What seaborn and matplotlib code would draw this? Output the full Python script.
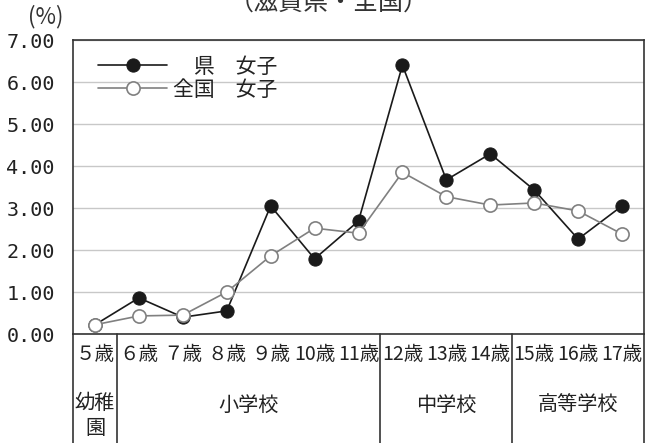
import seaborn as sns
import pandas as pd
import matplotlib.pyplot as plt
import matplotlib.transforms as mtransforms

# Data
ages = ['５歳', '６歳', '７歳', '８歳', '９歳', '10歳', '11歳',
        '12歳', '13歳', '14歳', '15歳', '16歳', '17歳']
ken_girls = [0.22, 0.86, 0.40, 0.55, 3.05, 1.79, 2.69,
             6.40, 3.67, 4.29, 3.43, 2.26, 3.05]
zenkoku_girls = [0.22, 0.43, 0.45, 1.00, 1.86, 2.52, 2.40,
                 3.85, 3.27, 3.07, 3.12, 2.93, 2.38]
schools = ['幼稚\n園', '小学校', '中学校', '高等学校']
school_spans = [(0, 0), (1, 6), (7, 9), (10, 12)]
yticks = [0, 1, 2, 3, 4, 5, 6, 7]

df = pd.DataFrame({'pos': range(len(ages)), 'age': ages,
                   'ken': ken_girls, 'zenkoku': zenkoku_girls})

sns.set_style('white')
plt.rcParams['font.family'] = ['Noto Sans CJK JP', 'DejaVu Sans']

fig = plt.figure(figsize=(6.57, 4.43), dpi=100, facecolor='white')
ax = fig.add_axes([73 / 657, 109 / 443, 571 / 657, 294 / 443])

sns.lineplot(x='pos', y='ken', data=df, ax=ax, color='#1a1a1a', linewidth=1.2,
             marker='o', markersize=9.5, markerfacecolor='#1a1a1a',
             markeredgecolor='#1a1a1a', label='　県　女子')
sns.lineplot(x='pos', y='zenkoku', data=df, ax=ax, color='#808080', linewidth=1.2,
             marker='o', markersize=9.5, markerfacecolor='white',
             markeredgecolor='#808080', markeredgewidth=1.2, label='全国　女子')

ax.set_xlim(-0.5, len(ages) - 0.5)
ax.set_ylim(0, 7)
ax.set_yticks(yticks)
ax.set_yticklabels([f'{v:.2f}' for v in yticks], fontsize=14.5,
                   family=['DejaVu Sans Mono'], color='#222222')
ax.tick_params(axis='y', length=0, pad=13)
ax.set_xticks([])
ax.set_xlabel('')
ax.set_ylabel('')
ax.grid(axis='y', color='#c8c8c8', linewidth=1)
ax.set_axisbelow(True)
for s in ax.spines.values():
    s.set_color('#333333')
    s.set_linewidth(1.2)

leg = ax.legend(loc='upper left', bbox_to_anchor=(0.03, 0.975), frameon=False,
                fontsize=15, handlelength=3.3, handletextpad=0.3,
                labelspacing=0.05, borderaxespad=0)
for t in leg.get_texts():
    t.set_color('#222222')

# Title (cut off at top, as in the source) and unit label
fig.text(0.5, 1 - 3 / 443, '（滋賀県・全国）', ha='center', va='center',
         fontsize=18, color='#333333')
fig.text(28 / 657, 1 - 17 / 443, '(%)', ha='left', va='center', fontsize=16,
         color='#333333')

# Category table below the axes
trans = mtransforms.blended_transform_factory(ax.transData, ax.transAxes)
bottom = -110 / 294
for i, a in enumerate(ages):
    ax.text(i, -21 / 294, a, transform=trans, ha='center', va='center',
            fontsize=14, color='#222222')
for name, (s, e) in zip(schools, school_spans):
    yy = -82 / 294 if '\n' in name else -71 / 294
    ax.text((s + e) / 2, yy, name, transform=trans, ha='center',
            va='center', fontsize=14.5, color='#222222', linespacing=1.25)
bounds = [-0.5] + [e + 0.5 for _, e in school_spans]
for b in bounds:
    ax.plot([b, b], [0, bottom], transform=trans, color='#333333',
            linewidth=1.2, clip_on=False)

fig.savefig('out.png', dpi=100)
